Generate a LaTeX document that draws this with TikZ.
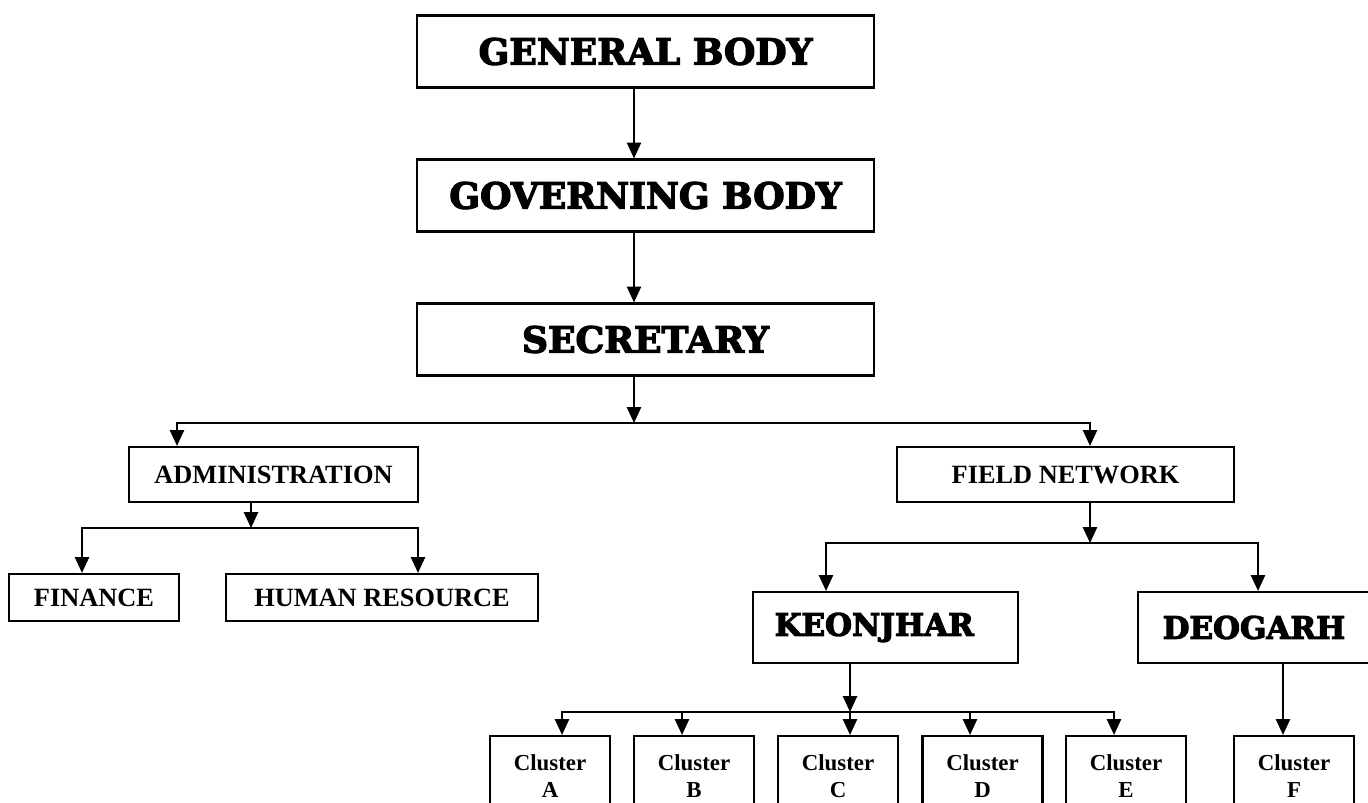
\documentclass[tikz,border=0pt]{standalone}
\usepackage{fontspec}
\setmainfont{Liberation Serif}
\newfontfamily\heavyfont{DejaVu Serif}[BoldFeatures={FakeBold=3.5}]
\usetikzlibrary{arrows.meta}

\begin{document}
\begin{tikzpicture}[x=0.02cm,y=-0.02cm,line width=1.2pt,
    >={Triangle[width=8pt,length=9pt]},
    topbox/.style={draw,inner sep=0pt,minimum width=9.14cm,minimum height=1.44cm,
      font=\heavyfont\bfseries\fontsize{20.5}{24}\selectfont},
    distbox/.style={draw,inner sep=0pt,minimum height=1.42cm,
      font=\heavyfont\bfseries\fontsize{17.6}{21}\selectfont},
    midbox/.style={draw,inner sep=0pt,minimum height=1.1cm,
      font=\bfseries\fontsize{15}{18}\selectfont},
    lowbox/.style={draw,inner sep=0pt,minimum height=0.94cm,
      font=\bfseries\fontsize{15}{18}\selectfont},
    clbox/.style={draw,inner sep=0pt,minimum width=2.4cm,minimum height=1.6cm,align=center,
      font=\bfseries\fontsize{13}{15.4}\selectfont}]
  \useasboundingbox (0,0) rectangle (1368,803);

  \node[topbox] (gen) at (645.5,51.5) {GENERAL BODY};
  \node[topbox] (gov) at (645.5,195.5) {GOVERNING BODY};
  \node[topbox] (sec) at (645.5,339.5) {SECRETARY};
  \node[midbox,minimum width=5.78cm] (adm) at (273.5,474.5) {ADMINISTRATION};
  \node[midbox,minimum width=6.74cm] (field) at (1065.5,474.5) {FIELD NETWORK};
  \node[lowbox,minimum width=3.4cm] (fin) at (94,597.5) {FINANCE};
  \node[lowbox,minimum width=6.24cm] (hr) at (382,597.5) {HUMAN RESOURCE};
  \node[distbox,minimum width=5.3cm] (keon) at (885.5,627.5) {\mbox{KEONJHAR\hspace{0.45cm}}};
  \node[distbox,minimum width=4.64cm] (deo) at (1254,627.5) {DEOGARH};
  \node[clbox] (cla) at (550,776) {Cluster\\A};
  \node[clbox] (clb) at (694,776) {Cluster\\B};
  \node[clbox] (clc) at (838,776) {Cluster\\C};
  \node[clbox] (cld) at (982.5,776) {Cluster\\D};
  \node[clbox] (cle) at (1126,776) {Cluster\\E};
  \node[clbox] (clf) at (1294,776) {Cluster\\F};

  \coordinate (s1) at (634,423);
  \coordinate (a1) at (177,423);
  \coordinate (f1) at (1090,423);
  \draw[->] (gen.south -| s1) -- (gov.north -| s1);
  \draw[->] (gov.south -| s1) -- (sec.north -| s1);
  \draw[->] (sec.south -| s1) -- (s1);
  \draw[->] (s1) -| (adm.north -| a1);
  \draw[->] (s1) -| (field.north -| f1);

  \coordinate (a2) at (251,528);
  \coordinate (fn1) at (82,528);
  \coordinate (hr1) at (418,528);
  \draw[->] (adm.south -| a2) -- (a2);
  \draw[->] (a2) -| (fin.north -| fn1);
  \draw[->] (a2) -| (hr.north -| hr1);

  \coordinate (f2) at (1090,543);
  \coordinate (k1) at (826,543);
  \coordinate (d1) at (1258,543);
  \draw[->] (field.south -| f2) -- (f2);
  \draw[->] (f2) -| (keon.north -| k1);
  \draw[->] (f2) -| (deo.north -| d1);

  \coordinate (k2) at (850,712);
  \coordinate (ca) at (562,712);
  \coordinate (cb) at (682,712);
  \coordinate (cd) at (970,712);
  \coordinate (ce) at (1114,712);
  \draw[->] (keon.south -| k2) -- (k2);
  \draw[->] (k2) -| (cla.north -| ca);
  \draw[->] (k2) -| (clb.north -| cb);
  \draw[->] (k2) -- (clc.north -| k2);
  \draw[->] (k2) -| (cld.north -| cd);
  \draw[->] (k2) -| (cle.north -| ce);

  \coordinate (d2) at (1283,0);
  \draw[->] (deo.south -| d2) -- (clf.north -| d2);
\end{tikzpicture}
\end{document}
